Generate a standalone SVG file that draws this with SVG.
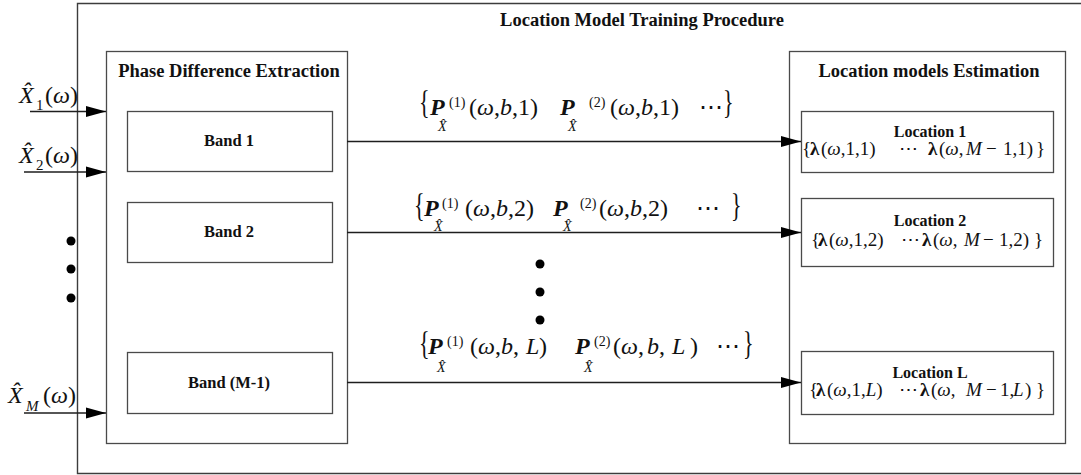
<svg xmlns="http://www.w3.org/2000/svg" width="1081" height="475" viewBox="0 0 1081 475">
  <style>
    .frame { fill: none; stroke: #3c3c3c; stroke-width: 1.4; }
    .box { fill: #ffffff; stroke: #4a4a4a; stroke-width: 1.3; }
    .wire { fill: none; stroke: #1e1e1e; stroke-width: 1.6; }
    .ttl { font-family: "Liberation Serif", serif; font-weight: bold; font-size: 18.5px; text-anchor: middle; fill: #111; }
    .lbl { font-family: "Liberation Serif", serif; font-weight: bold; font-size: 16.5px; text-anchor: middle; fill: #111; }
    .loc { font-family: "Liberation Serif", serif; font-weight: bold; font-size: 16px; text-anchor: middle; fill: #111; }
    .math { font-family: "Liberation Serif", serif; font-size: 24px; fill: #111; }
    .lam { font-family: "Liberation Serif", serif; font-size: 19px; fill: #111; }
    .brace { font-family: "Liberation Serif", serif; font-size: 22px; fill: #111; }
    .it { font-style: italic; }
    .bi { font-style: italic; font-weight: bold; }
    .bd { font-weight: bold; }
    .sub { font-family: "Liberation Serif", serif; font-size: 14px; font-style: italic; fill: #111; }
    .sup { font-family: "Liberation Serif", serif; font-size: 14px; fill: #111; }
    .dot { fill: #000; }
  </style>
  <defs>
    <marker id="head" markerUnits="userSpaceOnUse" markerWidth="20" markerHeight="12" refX="20" refY="6" orient="auto">
      <path d="M0,0.5 L20,6 L0,11.5 z" fill="#000"/>
    </marker>
  </defs>

  <!-- outer training procedure frame (runs off the right edge) -->
  <g id="procedure">
    <path class="frame" d="M1085,3.5 H77.5 V473.5 H1085"/>
    <text class="ttl" x="642" y="26">Location Model Training Procedure</text>
  </g>

  <!-- phase difference extraction stage -->
  <g id="extraction">
    <rect class="box" x="106.5" y="51.5" width="241" height="392"/>
    <text class="ttl" x="229" y="77">Phase Difference Extraction</text>
  </g>
  <g id="band1">
    <rect class="box" x="127.5" y="111.5" width="205" height="60"/>
    <text class="lbl" x="229" y="146">Band 1</text>
  </g>
  <g id="band2">
    <rect class="box" x="127.5" y="202.5" width="205" height="60"/>
    <text class="lbl" x="229" y="237">Band 2</text>
  </g>
  <g id="bandM1">
    <rect class="box" x="127.5" y="352.5" width="205" height="61"/>
    <text class="lbl" x="229" y="388">Band (M-1)</text>
  </g>

  <!-- location model estimation stage -->
  <g id="estimation">
    <rect class="box" x="789.5" y="51.5" width="276" height="392"/>
    <text class="ttl" x="929" y="77">Location models Estimation</text>
  </g>
  <g id="location1">
    <rect class="box" x="801.5" y="111.5" width="252" height="61"/>
    <text class="loc" x="930" y="137">Location 1</text>
    <text class="lam"><tspan x="802" y="155">{</tspan><tspan x="810" class="bd">λ</tspan><tspan x="821">(</tspan><tspan class="it">ω</tspan><tspan>,1,1)</tspan><tspan x="899">⋯</tspan><tspan x="928" class="bd">λ</tspan><tspan x="939">(</tspan><tspan class="it">ω</tspan><tspan>,</tspan><tspan x="966" class="it">M</tspan><tspan x="986">−</tspan><tspan x="1003">1,1)</tspan><tspan x="1036">}</tspan></text>
  </g>
  <g id="location2">
    <rect class="box" x="801.5" y="198.5" width="252" height="68"/>
    <text class="loc" x="930" y="226">Location 2</text>
    <text class="lam"><tspan x="811" y="246">{</tspan><tspan x="818" class="bd">λ</tspan><tspan x="829">(</tspan><tspan class="it">ω</tspan><tspan>,1,2)</tspan><tspan x="901">⋯</tspan><tspan x="922" class="bd">λ</tspan><tspan x="933">(</tspan><tspan class="it">ω</tspan><tspan>,</tspan><tspan x="964" class="it">M</tspan><tspan x="983">−</tspan><tspan x="999">1,2)</tspan><tspan x="1034">}</tspan></text>
  </g>
  <g id="locationL">
    <rect class="box" x="801.5" y="351.5" width="252" height="63"/>
    <text class="loc" x="930" y="378">Location L</text>
    <text class="lam"><tspan x="809" y="396">{</tspan><tspan x="816" class="bd">λ</tspan><tspan x="827">(</tspan><tspan class="it">ω</tspan><tspan>,1,</tspan><tspan class="it">L</tspan><tspan>)</tspan><tspan x="899">⋯</tspan><tspan x="920" class="bd">λ</tspan><tspan x="931">(</tspan><tspan class="it">ω</tspan><tspan>,</tspan><tspan x="966" class="it">M</tspan><tspan x="986">−</tspan><tspan x="1000">1,</tspan><tspan x="1013" class="it">L</tspan><tspan x="1025">)</tspan><tspan x="1036">}</tspan></text>
  </g>

  <!-- microphone spectra feeding the extraction stage -->
  <g id="inputs">
    <text class="math"><tspan x="19" y="103" class="it">X̂</tspan><tspan x="36" y="110" font-size="15">1</tspan><tspan x="45" y="103">(</tspan><tspan class="it">ω</tspan><tspan>)</tspan></text>
    <text class="math"><tspan x="19" y="163" class="it">X̂</tspan><tspan x="36" y="170" font-size="15">2</tspan><tspan x="45" y="163">(</tspan><tspan class="it">ω</tspan><tspan>)</tspan></text>
    <text class="math"><tspan x="8" y="403" class="it">X̂</tspan><tspan x="26" y="411" font-size="15" class="it">M</tspan><tspan x="43" y="403">(</tspan><tspan class="it">ω</tspan><tspan>)</tspan></text>
    <circle class="dot" cx="71" cy="241" r="4.5"/>
    <circle class="dot" cx="71" cy="269" r="4.5"/>
    <circle class="dot" cx="71" cy="298" r="4.5"/>
  </g>

  <!-- connectors -->
  <g id="connectors">
    <line class="wire" x1="30" y1="111.5" x2="106" y2="111.5" marker-end="url(#head)"/>
    <line class="wire" x1="24" y1="172" x2="106" y2="172" marker-end="url(#head)"/>
    <line class="wire" x1="24" y1="413" x2="106" y2="413" marker-end="url(#head)"/>
    <line class="wire" x1="347" y1="141.5" x2="801" y2="141.5" marker-end="url(#head)"/>
    <line class="wire" x1="347" y1="232.5" x2="801" y2="232.5" marker-end="url(#head)"/>
    <line class="wire" x1="347" y1="382.5" x2="801" y2="382.5" marker-end="url(#head)"/>
  </g>

  <!-- phase difference feature sets carried per band -->
  <g id="features">
    <!-- band 1 -->
    <text class="brace" transform="translate(419,113) scale(1,1.5)">{</text>
    <text class="math"><tspan x="430" y="115" class="bi">P</tspan><tspan x="469">(</tspan><tspan class="it">ω</tspan><tspan>,</tspan><tspan class="it">b</tspan><tspan>,1)</tspan><tspan x="560" class="bi">P</tspan><tspan x="610">(</tspan><tspan class="it">ω</tspan><tspan>,</tspan><tspan class="it">b</tspan><tspan>,1)</tspan><tspan x="699">⋯</tspan></text>
    <text class="sub" x="438" y="131">X̂</text>
    <text class="sup" x="449" y="107">(1)</text>
    <text class="sub" x="568" y="131">X̂</text>
    <text class="sup" x="589" y="107">(2)</text>
    <text class="brace" transform="translate(723,113) scale(1,1.5)">}</text>

    <!-- band 2 -->
    <text class="brace" transform="translate(414,216) scale(1,1.5)">{</text>
    <text class="math"><tspan x="424" y="216" class="bi">P</tspan><tspan x="465">(</tspan><tspan class="it">ω</tspan><tspan>,</tspan><tspan class="it">b</tspan><tspan>,2)</tspan><tspan x="553" class="bi">P</tspan><tspan x="599">(</tspan><tspan class="it">ω</tspan><tspan>,</tspan><tspan class="it">b</tspan><tspan>,2)</tspan><tspan x="696">⋯</tspan></text>
    <text class="sub" x="434" y="231">X̂</text>
    <text class="sup" x="442" y="208">(1)</text>
    <text class="sub" x="563" y="231">X̂</text>
    <text class="sup" x="580" y="208">(2)</text>
    <text class="brace" transform="translate(731,216) scale(1,1.5)">}</text>

    <circle class="dot" cx="540" cy="264" r="4.5"/>
    <circle class="dot" cx="540" cy="292" r="4.5"/>
    <circle class="dot" cx="540" cy="320" r="4.5"/>

    <!-- band L -->
    <text class="brace" transform="translate(419,354) scale(1,1.5)">{</text>
    <text class="math"><tspan x="428" y="354" class="bi">P</tspan><tspan x="470">(</tspan><tspan class="it">ω</tspan><tspan>,</tspan><tspan class="it">b</tspan><tspan>,</tspan><tspan x="526" class="it">L</tspan><tspan x="539">)</tspan><tspan x="575" class="bi">P</tspan><tspan x="613">(</tspan><tspan class="it">ω</tspan><tspan>,</tspan><tspan x="647" class="it">b</tspan><tspan>,</tspan><tspan x="672" class="it">L</tspan><tspan x="690">)</tspan><tspan x="716">⋯</tspan></text>
    <text class="sub" x="437" y="372">X̂</text>
    <text class="sup" x="447" y="346">(1)</text>
    <text class="sub" x="584" y="372">X̂</text>
    <text class="sup" x="594" y="346">(2)</text>
    <text class="brace" transform="translate(743,354) scale(1,1.5)">}</text>
  </g>
</svg>
